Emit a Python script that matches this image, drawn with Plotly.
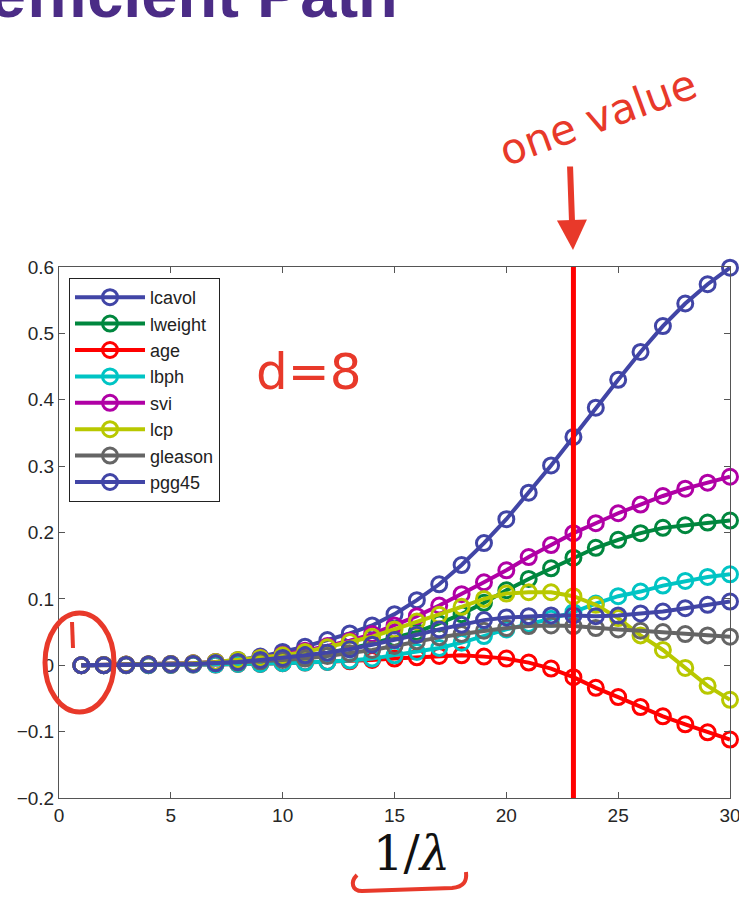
import plotly.graph_objects as go

# ---------------- data ----------------
steps = list(range(1, 31))  # 1/lambda
names = ["lcavol", "lweight", "age", "lbph", "svi", "lcp", "gleason", "pgg45"]
lcavol = [0, 0.0005, 0.001, 0.0015, 0.002, 0.003, 0.005, 0.008, 0.013, 0.020,
          0.028, 0.038, 0.048, 0.060, 0.077, 0.098, 0.122, 0.151, 0.184, 0.220,
          0.260, 0.301, 0.344, 0.388, 0.430, 0.472, 0.511, 0.545, 0.574, 0.599]
lweight = [0, 0, 0.0005, 0.001, 0.0015, 0.002, 0.003, 0.005, 0.007, 0.010,
           0.014, 0.019, 0.025, 0.033, 0.041, 0.050, 0.063, 0.077, 0.094, 0.113,
           0.130, 0.146, 0.162, 0.177, 0.189, 0.199, 0.207, 0.211, 0.215, 0.218]
age = [0, 0, 0, 0, 0.0005, 0.001, 0.001, 0.002, 0.002, 0.003,
       0.004, 0.005, 0.006, 0.008, 0.010, 0.012, 0.014, 0.015, 0.013, 0.010,
       0.004, -0.005, -0.018, -0.034, -0.048, -0.063, -0.077, -0.089, -0.101, -0.112]
lbph = [0, 0, 0, 0, 0.0005, 0.001, 0.001, 0.002, 0.002, 0.003,
        0.004, 0.005, 0.007, 0.010, 0.015, 0.020, 0.026, 0.034, 0.044, 0.054,
        0.062, 0.070, 0.080, 0.093, 0.104, 0.111, 0.120, 0.127, 0.133, 0.137]
svi = [0, 0.0005, 0.001, 0.0015, 0.002, 0.003, 0.005, 0.007, 0.011, 0.016,
       0.022, 0.029, 0.037, 0.047, 0.060, 0.074, 0.090, 0.107, 0.125, 0.143,
       0.163, 0.181, 0.199, 0.214, 0.229, 0.242, 0.255, 0.266, 0.275, 0.284]
lcp = [0, 0.0005, 0.001, 0.0015, 0.002, 0.003, 0.005, 0.008, 0.011, 0.015,
       0.020, 0.027, 0.035, 0.043, 0.054, 0.066, 0.076, 0.088, 0.100, 0.108,
       0.110, 0.110, 0.104, 0.091, 0.071, 0.045, 0.023, -0.004, -0.031, -0.052]
gleason = [0, 0, 0.0005, 0.001, 0.001, 0.002, 0.003, 0.004, 0.006, 0.008,
           0.010, 0.014, 0.018, 0.023, 0.029, 0.036, 0.042, 0.047, 0.052, 0.056,
           0.059, 0.060, 0.059, 0.056, 0.054, 0.052, 0.050, 0.047, 0.045, 0.043]
pgg45 = [0, 0, 0.0005, 0.001, 0.0015, 0.002, 0.003, 0.005, 0.008, 0.011,
         0.015, 0.019, 0.024, 0.031, 0.038, 0.046, 0.054, 0.061, 0.068, 0.072,
         0.074, 0.075, 0.075, 0.074, 0.075, 0.078, 0.081, 0.086, 0.091, 0.096]
series = [lcavol, lweight, age, lbph, svi, lcp, gleason, pgg45]
colors = ["#4145A6", "#00873E", "#FF0000", "#00C4C4", "#B000A5", "#B8C800", "#656565", "#4145A6"]

x_ticks = [0, 5, 10, 15, 20, 25, 30]
y_ticks = [-0.2, -0.1, 0, 0.1, 0.2, 0.3, 0.4, 0.5, 0.6]
y_ticktext = ["\u22120.2", "\u22120.1", "0", "0.1", "0.2", "0.3", "0.4", "0.5", "0.6"]
chosen = 23

# ---------------- layout geometry ----------------
W, H = 739, 907
L, R, T, B = 59, 9, 267, 109
PW, PH = W - L - R, H - T - B


def xp(px):
    return (px - L) / PW


def yp(py):
    return (H - B - py) / PH


fig = go.Figure()
for name, vals, col in zip(names, series, colors):
    fig.add_trace(go.Scatter(
        x=steps, y=vals, name=name, mode="lines+markers",
        line=dict(color=col, width=4),
        marker=dict(symbol="circle-open", size=15, color=col, line=dict(width=3, color=col)),
        cliponaxis=False,
    ))

fig.update_layout(
    width=W, height=H,
    margin=dict(l=L, r=R, t=T, b=B, autoexpand=False),
    paper_bgcolor="white", plot_bgcolor="white",
    font=dict(family="Liberation Sans, Arial, sans-serif", size=19, color="#262626"),
    showlegend=True,
    legend=dict(
        x=xp(69), y=yp(278), xanchor="left", yanchor="top",
        bgcolor="white", bordercolor="#222222", borderwidth=1,
        font=dict(size=18, color="#222222"), itemwidth=70,
        tracegroupgap=0,
    ),
)
fig.update_xaxes(
    range=[0, 30], tickvals=x_ticks, ticktext=[str(v) for v in x_ticks],
    showgrid=False, zeroline=False, showline=True, linecolor="#555555", linewidth=1,
    mirror="ticks", ticks="inside", ticklen=6, tickcolor="#555555", automargin=False,
    ticklabeloverflow="allow",
    tickfont=dict(size=19, color="#262626"),
)
fig.update_yaxes(
    range=[-0.2, 0.6], tickvals=y_ticks, ticktext=y_ticktext,
    showgrid=False, zeroline=False, showline=True, linecolor="#555555", linewidth=1,
    mirror="ticks", ticks="inside", ticklen=6, tickcolor="#555555", automargin=False,
    ticklabeloverflow="allow",
    tickfont=dict(size=19, color="#262626"),
)

# vertical red line at chosen lambda
fig.add_shape(type="line", xref="x", yref="paper", x0=chosen, x1=chosen, y0=0, y1=1,
              line=dict(color="#FF0000", width=5))

# x-axis title
fig.add_annotation(text="1/<i>\u03bb</i>", xref="paper", yref="paper",
                   x=xp(411), y=yp(853), xanchor="center", yanchor="middle",
                   showarrow=False,
                   font=dict(family="DejaVu Serif, Liberation Serif, serif", size=48, color="#111111"))

# slide title (cut at top)
fig.add_annotation(text="<b>Coefficient Path</b>", xref="paper", yref="paper",
                   x=xp(400), y=yp(33), xanchor="right", yanchor="bottom",
                   showarrow=False,
                   font=dict(family="Liberation Sans, Arial, sans-serif", size=65, color="#4B2C86"))

red = "#E8392A"
# handwritten annotations
fig.add_annotation(text="one value", xref="paper", yref="paper",
                   x=xp(598), y=yp(118), xanchor="center", yanchor="middle",
                   showarrow=False, textangle=-20,
                   font=dict(family="DejaVu Sans, sans-serif", size=42, color=red))
fig.add_annotation(text="d=8", xref="paper", yref="paper",
                   x=xp(308), y=yp(372), xanchor="center", yanchor="middle",
                   showarrow=False,
                   font=dict(family="DejaVu Sans, sans-serif", size=50, color=red))
fig.add_annotation(text="", xref="paper", yref="paper",
                   x=xp(573), y=yp(250), ax=-3, ay=-85,
                   showarrow=True, arrowhead=2, arrowsize=1, arrowwidth=6, arrowcolor=red)
fig.add_shape(type="circle", xref="paper", yref="paper",
              x0=xp(45), x1=xp(114), y0=yp(712), y1=yp(613),
              line=dict(color=red, width=5))
fig.add_shape(type="line", xref="paper", yref="paper",
              x0=xp(72), x1=xp(73), y0=yp(622), y1=yp(648),
              line=dict(color=red, width=4))


def ppath(points):
    s = ""
    for cmd, pts in points:
        s += cmd + " " + " ".join(f"{xp(a):.5f},{yp(b):.5f}" for a, b in pts) + " "
    return s.strip()


brace = ppath([("M", [(357, 875)]),
               ("C", [(350, 882), (352, 891), (362, 891)]),
               ("L", [(452, 888)]),
               ("C", [(464, 887), (467, 881), (466, 872)])])
fig.add_shape(type="path", xref="paper", yref="paper", path=brace,
              line=dict(color=red, width=4))

fig.write_html("out.html")
